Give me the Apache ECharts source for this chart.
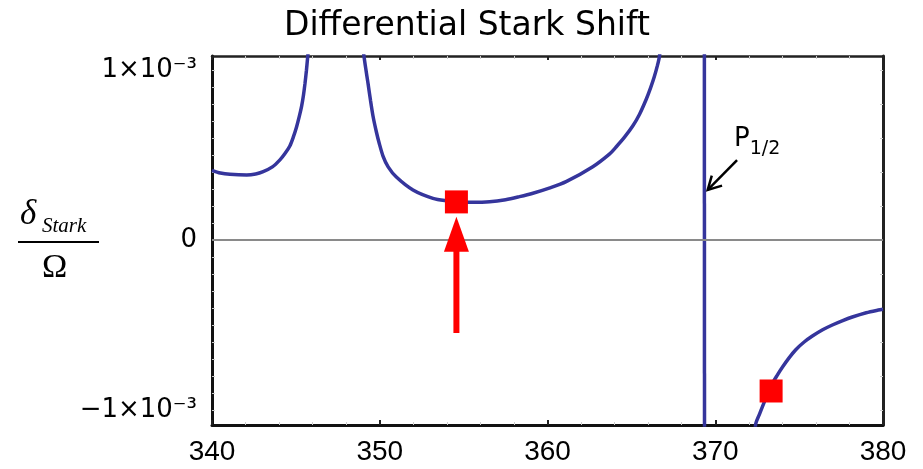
<!DOCTYPE html>
<html>
<head>
<meta charset="utf-8">
<script src="https://cdn.jsdelivr.net/npm/echarts@6/dist/echarts.min.js"></script>
<style>html,body{margin:0;padding:0;background:#fff}#c{width:923px;height:469px}</style>
</head>
<body>
<div id="c"></div>
<script>
// ---- data ----
const titleText = 'Differential Stark Shift';
const xTicks = [340, 350, 360, 370, 380];
const yTickValues = [-0.001, 0, 0.001];
const yTickLabels = ['\u22121\u00d710\u207b\u00b3', '0', '1\u00d710\u207b\u00b3'];

// curve branch left of the first resonance
const branch1 = [
  [340.0, 0.00041], [340.5, 0.000394], [341.07, 0.000386], [342.07, 0.000382], [342.6, 0.000388], [343.05, 0.000402],
  [343.6, 0.000430], [344.05, 0.000471], [344.35, 0.000508], [344.64, 0.000553], [344.84, 0.000603], [345.04, 0.000665],
  [345.2, 0.000725], [345.34, 0.000786], [345.45, 0.000850], [345.54, 0.000918], [345.63, 0.000998], [345.70, 0.001072], [345.78, 0.00115]
];
// branch between the first resonance and P1/2
const branch2 = [
  [348.98, 0.00115], [349.05, 0.001088], [349.17, 0.001005], [349.30, 0.000922], [349.45, 0.000820], [349.60, 0.000728],
  [349.80, 0.000635], [349.96, 0.000572], [350.20, 0.000492], [350.50, 0.000430], [350.99, 0.000370], [351.98, 0.000294], [353.17, 0.000245],
  [354.0, 0.000230], [354.57, 0.000225], [355.5, 0.000222], [356.55, 0.000225], [357.5, 0.000237], [358.33, 0.000255], [359.13, 0.000275],
  [360.1, 0.000305], [361.11, 0.000343], [362.70, 0.000431], [363.69, 0.000505], [364.09, 0.000547], [364.58, 0.000603], [365.08, 0.000670],
  [365.48, 0.000738], [365.88, 0.000826], [366.15, 0.000896], [366.37, 0.000961], [366.55, 0.001025], [366.67, 0.001078], [366.75, 0.00115]
];
// the narrow P1/2 resonance
const branch3 = [[369.35, 0.0012], [369.36, -0.0012]];
// branch right of P1/2
const branch4 = [
  [372.36, -0.00115], [372.42, -0.001078], [372.62, -0.001028], [372.82, -0.000978], [373.10, -0.000910], [373.41, -0.000843],
  [373.71, -0.000793], [374.01, -0.000747], [374.40, -0.000693], [374.80, -0.000645], [375.30, -0.000600], [375.79, -0.000565],
  [376.40, -0.000528], [376.98, -0.000500], [377.6, -0.000474], [378.17, -0.000453], [379.0, -0.000428], [379.72, -0.000412], [380.0, -0.000407]
];
// magic-wavelength markers
const markers = [[354.57, 0.000224], [373.33, -0.000888]];
// red arrow annotation (x, from y, to y)
const arrowX = 354.57, arrowFromY = -0.000547, arrowToY = 0.000137;
// P1/2 label annotation
const p12Label = 'P';
const p12Sub = '1/2';
const p12ArrowFrom = [371.3, 0.000470];
const p12ArrowTo = [369.55, 0.000294];

const blue = '#35359c';
const chart = echarts.init(document.getElementById('c'), null, {renderer: 'canvas'});

function lineSeries(data) {
  return {
    type: 'line', data: data, showSymbol: false, smooth: 0.3, clip: true,
    lineStyle: {color: blue, width: 3.5}, z: 3, silent: true
  };
}

const axisCommon = {
  type: 'value', splitLine: {show: false}
};

const option = {
  animation: false,
  backgroundColor: '#ffffff',
  title: {
    text: titleText, left: 279, top: 5,
    textStyle: {fontFamily: 'DejaVu Sans', fontWeight: 'normal', fontSize: 33, color: '#000'}
  },
  grid: {left: 212, right: 40, top: 56, bottom: 44, containLabel: false},
  xAxis: [
    Object.assign({}, axisCommon, {
      min: 340, max: 380, interval: 10, position: 'bottom',
      axisLine: {show: true, onZero: false, lineStyle: {color: '#111', width: 3}},
      axisTick: {show: true, inside: true, length: 5, lineStyle: {color: '#222', width: 2}},
      minorTick: {show: true, splitNumber: 5, length: 3, lineStyle: {color: '#ccc', width: 1}},
      axisLabel: {
        margin: 13, fontFamily: 'Liberation Sans', fontSize: 28, color: '#000',
        customValues: xTicks, formatter: v => String(v)
      }
    }),
    Object.assign({}, axisCommon, {
      min: 340, max: 380, interval: 10, position: 'top',
      axisLine: {show: true, onZero: false, lineStyle: {color: '#222', width: 2.5}},
      axisTick: {show: true, inside: true, length: 4, lineStyle: {color: '#222', width: 2}},
      minorTick: {show: true, splitNumber: 5, length: 3, lineStyle: {color: '#ccc', width: 1}},
      axisLabel: {show: false}
    })
  ],
  yAxis: [
    Object.assign({}, axisCommon, {
      min: -0.001088, max: 0.001082, position: 'left',
      axisLine: {show: true, onZero: false, lineStyle: {color: '#111', width: 3}},
      axisTick: {show: true, inside: true, length: 3, lineStyle: {color: '#ccc', width: 1},
        customValues: [-0.001,-0.0009,-0.0008,-0.0007,-0.0006,-0.0005,-0.0004,-0.0003,-0.0002,-0.0001,0,0.0001,0.0002,0.0003,0.0004,0.0005,0.0006,0.0007,0.0008,0.0009,0.001]},
      axisLabel: {
        margin: 15, fontFamily: 'DejaVu Sans', fontSize: 26, color: '#000',
        customValues: yTickValues,
        formatter: v => {
          for (let i = 0; i < yTickValues.length; i++) {
            if (Math.abs(v - yTickValues[i]) < 1e-9) return yTickLabels[i];
          }
          return '';
        }
      }
    }),
    Object.assign({}, axisCommon, {
      min: -0.001088, max: 0.001082, position: 'right',
      axisLine: {show: true, onZero: false, lineStyle: {color: '#222', width: 3}},
      axisTick: {show: true, inside: true, length: 3, lineStyle: {color: '#ccc', width: 1},
        customValues: [-0.001,-0.0008,-0.0006,-0.0004,-0.0002,0,0.0002,0.0004,0.0006,0.0008,0.001]},
      axisLabel: {show: false}
    })
  ],
  series: [
    {
      type: 'line', data: [], silent: true,
      markLine: {
        silent: true, symbol: ['none', 'none'], label: {show: false},
        lineStyle: {color: '#8a8a8a', width: 2, type: 'solid'},
        data: [{yAxis: 0}]
      },
      z: 1
    },
    lineSeries(branch1),
    lineSeries(branch2),
    Object.assign(lineSeries(branch3), {smooth: false}),
    lineSeries(branch4),
    {
      type: 'scatter', data: markers, symbol: 'rect', symbolSize: 23,
      itemStyle: {color: '#ff0000', opacity: 1}, z: 5, silent: true
    }
  ]
};
chart.setOption(option);

// annotations placed through the axis scales
const toPx = p => chart.convertToPixel({gridIndex: 0}, p);
const aBot = toPx([arrowX, arrowFromY]);
const aTip = toPx([arrowX, arrowToY]);
const headLen = 35, headHalf = 12.5;
const pFrom = toPx(p12ArrowFrom);
const pTo = toPx(p12ArrowTo);
const ang = Math.atan2(pTo[1] - pFrom[1], pTo[0] - pFrom[0]);
const hl = 15, ha = 0.5;
const h1 = [pTo[0] - hl * Math.cos(ang - ha), pTo[1] - hl * Math.sin(ang - ha)];
const h2 = [pTo[0] - hl * Math.cos(ang + ha), pTo[1] - hl * Math.sin(ang + ha)];

chart.setOption({
  graphic: [
    // red arrow
    {type: 'line', shape: {x1: aBot[0], y1: aBot[1], x2: aTip[0], y2: aTip[1] + headLen - 2},
     style: {stroke: '#ff0000', lineWidth: 6}, z: 20, silent: true},
    {type: 'polygon', shape: {points: [[aTip[0], aTip[1]], [aTip[0] - headHalf, aTip[1] + headLen], [aTip[0] + headHalf, aTip[1] + headLen]]},
     style: {fill: '#ff0000'}, z: 20, silent: true},
    // P1/2 arrow
    {type: 'polyline', shape: {points: [pFrom, pTo]}, style: {stroke: '#000', lineWidth: 2.5}, z: 20, silent: true},
    {type: 'polyline', shape: {points: [h1, pTo, h2]}, style: {stroke: '#000', lineWidth: 2.5, fill: null}, z: 20, silent: true},
    {type: 'text', x: pFrom[0] - 3, y: pFrom[1] - 8, z: 20, silent: true,
     style: {text: '{p|' + p12Label + '}{s|' + p12Sub + '}', verticalAlign: 'bottom', textVerticalAlign: 'bottom',
       rich: {p: {fontFamily: 'DejaVu Sans', fontSize: 26, fill: '#000', color: '#000', verticalAlign: 'bottom'},
              s: {fontFamily: 'DejaVu Sans', fontSize: 19, fill: '#000', color: '#000', verticalAlign: 'bottom', padding: [0, 0, -6, 0]}}}},
    // y-axis title: fraction delta_Stark / Omega
    {type: 'text', x: 20, y: 232, silent: true,
     style: {text: '\u03b4', font: 'italic 35px "Liberation Serif"', fill: '#000', textVerticalAlign: 'bottom', verticalAlign: 'bottom'}},
    {type: 'text', x: 42, y: 237, silent: true,
     style: {text: 'Stark', font: 'italic 21px "Liberation Serif"', fill: '#000', textVerticalAlign: 'bottom', verticalAlign: 'bottom'}},
    {type: 'line', shape: {x1: 18, y1: 242, x2: 99, y2: 242}, style: {stroke: '#000', lineWidth: 2}, silent: true},
    {type: 'text', x: 42, y: 285, silent: true,
     style: {text: '\u03a9', font: '34px "Liberation Serif"', fill: '#000', textVerticalAlign: 'bottom', verticalAlign: 'bottom'}}
  ]
});
</script>
</body>
</html>
